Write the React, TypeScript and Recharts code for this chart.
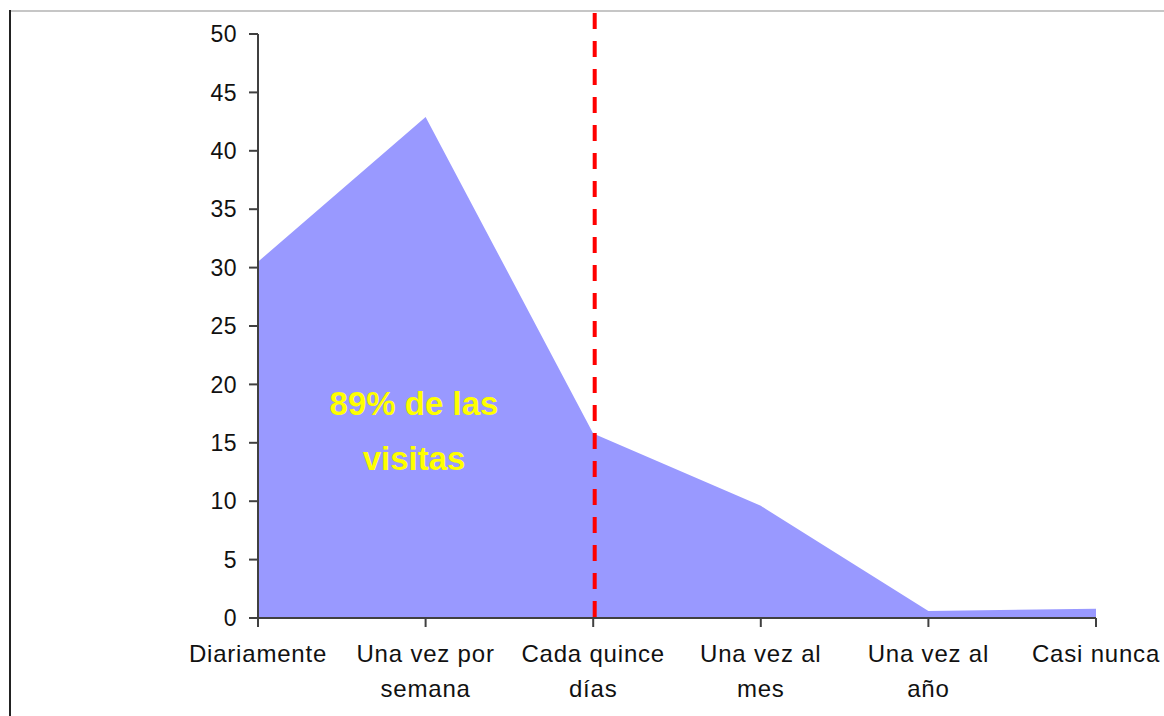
import { AreaChart, Area, XAxis, YAxis, ReferenceLine } from "recharts";

const categories = [
  "Diariamente",
  "Una vez por\nsemana",
  "Cada quince\ndías",
  "Una vez al\nmes",
  "Una vez al\naño",
  "Casi nunca",
];
const visitas = [30.5, 42.9, 15.8, 9.6, 0.6, 0.8];
const yTicks = [0, 5, 10, 15, 20, 25, 30, 35, 40, 45, 50];
const cutCategory = "Cada quince\ndías";
const noteLines = ["89% de las", "visitas"];

const data = categories.map((name, i) => ({ name, value: visitas[i] }));

const FONT = "'Liberation Sans', Arial, sans-serif";

const CategoryTick = (props: any) => {
  const { x, y, payload } = props;
  const lines = String(payload.value).split("\n");
  return (
    <g>
      {lines.map((line: string, i: number) => (
        <text
          key={i}
          x={x}
          y={y + 33 + i * 35}
          textAnchor="middle"
          fill="#111"
          fontSize={24}
          letterSpacing={0.8}
          fontFamily={FONT}
        >
          {line}
        </text>
      ))}
    </g>
  );
};

// dashed cut line, runs a bit above the plot like the original
const DashedCut = (props: any) => {
  const { x1, y1, y2 } = props;
  const top = Math.min(y1, y2);
  const bottom = Math.max(y1, y2);
  return (
    <line
      x1={x1 + 1.5}
      y1={top - 21}
      x2={x1 + 1.5}
      y2={bottom - 1}
      stroke="#ff0000"
      strokeWidth={4}
      strokeDasharray="16 12"
    />
  );
};

export default function App() {
  return (
    <div
      style={{
        position: "absolute",
        left: 0,
        top: 0,
        width: 1164,
        height: 716,
        background: "#fff",
        overflow: "hidden",
      }}
    >
      <div
        style={{
          position: "absolute",
          left: 9,
          top: 10,
          width: 1155,
          height: 0,
          borderTop: "2px solid #c6c6c6",
        }}
      />
      <div
        style={{
          position: "absolute",
          left: 9,
          top: 10,
          width: 0,
          height: 706,
          borderLeft: "2px solid #222",
        }}
      />
      <AreaChart
        width={1164}
        height={716}
        data={data}
        margin={{ top: 34, right: 68, bottom: 18, left: 198 }}
        style={{ position: "absolute", left: 0, top: 0 }}
      >
        <XAxis
          dataKey="name"
          height={80}
          interval={0}
          tickSize={9}
          stroke="#404040"
          strokeWidth={2}
          tick={<CategoryTick />}
        />
        <YAxis
          width={60}
          domain={[0, 50]}
          ticks={yTicks}
          interval={0}
          tickSize={9}
          tickMargin={12}
          stroke="#404040"
          strokeWidth={2}
          tick={{ fill: "#111", fontSize: 23, letterSpacing: 0.5, fontFamily: FONT }}
        />
        <Area
          type="linear"
          dataKey="value"
          fill="#9999ff"
          fillOpacity={1}
          stroke="none"
          isAnimationActive={false}
        />
        <ReferenceLine x={cutCategory} shape={<DashedCut />} />
      </AreaChart>
      <svg
        width={1164}
        height={716}
        style={{ position: "absolute", left: 0, top: 0, pointerEvents: "none" }}
      >
        {noteLines.map((line, i) => (
          <text
            key={i}
            x={414}
            y={415 + i * 55}
            textAnchor="middle"
            fill="#ffff00"
            fontSize={33}
            fontWeight="bold"
            fontFamily={FONT}
          >
            {line}
          </text>
        ))}
      </svg>
    </div>
  );
}
